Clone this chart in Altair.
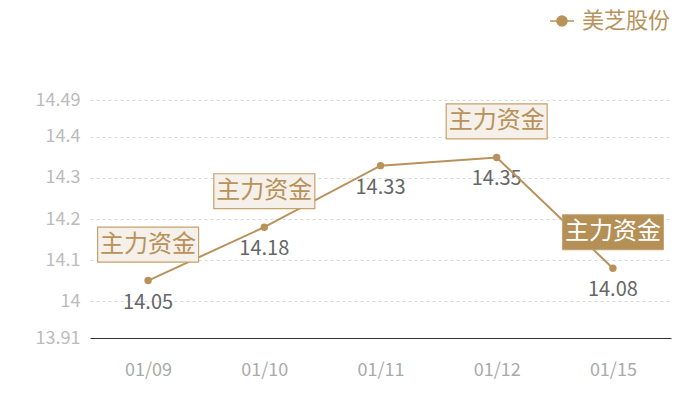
import altair as alt
import pandas as pd

dates = ["01/09", "01/10", "01/11", "01/12", "01/15"]
values = [14.05, 14.18, 14.33, 14.35, 14.08]
# 0 = no annotation, 1 = normal annotation box, 2 = highlighted box
box_kind = [1, 1, 0, 1, 2]
box_text = "主力资金"
series_name = "美芝股份"
y_ticks = [13.91, 14, 14.1, 14.2, 14.3, 14.4, 14.49]

df = pd.DataFrame({
    "date": dates,
    "value": values,
    "box": box_kind,
    "series": [series_name] * len(dates),
    "label": [box_text] * len(dates),
})

GOLD = "#b8925a"
FONT = "Noto Sans CJK SC"

x = alt.X("date:O", sort=dates, title=None,
          scale=alt.Scale(type="point", padding=0.5),
          axis=alt.Axis(labelAngle=0, ticks=False, domainColor="#333333",
                        domainWidth=1.2, labelColor="#aaaaaa", labelFontSize=18,
                        labelPadding=23, labelFont=FONT, grid=False))
y = alt.Y("value:Q", title=None,
          scale=alt.Scale(domain=[13.91, 14.49], nice=False, zero=False),
          axis=alt.Axis(values=y_ticks, ticks=False, domain=False,
                        labelColor="#bbbbbb", labelFontSize=18, labelPadding=10,
                        labelFont=FONT, grid=True, gridColor="#d9d9d9",
                        gridDash=[3, 3], gridWidth=1,
                        labelExpr="datum.value == 13.91 ? '13.91' : datum.value == 14.49 ? '14.49' : format(datum.value, '')"))

base = alt.Chart(df)

color = alt.Color("series:N", scale=alt.Scale(domain=[series_name], range=[GOLD]),
                  legend=alt.Legend(title=None, orient="none", legendX=459, legendY=-92,
                                    symbolType="M-1,0L-0.42,0M0.42,0L1,0M-0.42,0A0.42,0.42 0 1,1 0.42,0A0.42,0.42 0 1,1 -0.42,0Z",
                                    symbolSize=576, symbolStrokeWidth=1.5,
                                    symbolFillColor=GOLD, symbolStrokeColor=GOLD,
                                    labelFontSize=22, labelColor=GOLD, labelFont=FONT,
                                    labelOffset=7, padding=0, labelLimit=200))

value_labels = base.mark_text(dy=22, baseline="middle", fontSize=20,
                              color="#666666", font=FONT).encode(
    x=x, y=y, text=alt.Text("value:Q", format=".2f"))

line = base.mark_line(strokeWidth=2).encode(x=x, y=y, color=color)
points = base.mark_point(filled=True, size=55, opacity=1).encode(x=x, y=y, color=color)

box_shape = "M-1,-1.059L1,-1.059L1,-0.366L-1,-0.366Z"
boxes_normal = base.transform_filter("datum.box == 1").mark_point(
    shape=box_shape, size=10201, filled=True, fill="#f5f0e9", stroke="#c6a26c",
    strokeWidth=1.2, opacity=1, fillOpacity=1).encode(x=x, y=y)
boxes_hl = base.transform_filter("datum.box == 2").mark_point(
    shape=box_shape, size=10201, filled=True, fill="#b48f56", stroke="#c2a16f",
    strokeWidth=1, opacity=1, fillOpacity=1).encode(x=x, y=y)

text_normal = base.transform_filter("datum.box == 1").mark_text(
    dy=-36, baseline="middle", fontSize=24, color=GOLD, font=FONT).encode(
    x=x, y=y, text="label:N")
text_hl = base.transform_filter("datum.box == 2").mark_text(
    dy=-36, baseline="middle", fontSize=24, color="#ffffff", font=FONT).encode(
    x=x, y=y, text="label:N")

chart = alt.layer(value_labels, line, points, boxes_normal, boxes_hl,
                  text_normal, text_hl).properties(
    width=581, height=238,
    autosize=alt.AutoSizeParams(type="none"),
    padding={"left": 82, "top": 92, "right": 21, "bottom": 50},
    background="#ffffff",
).configure_view(strokeWidth=0, stroke=None)

chart.save("out.html", embed_options={"renderer": "svg", "actions": False})
